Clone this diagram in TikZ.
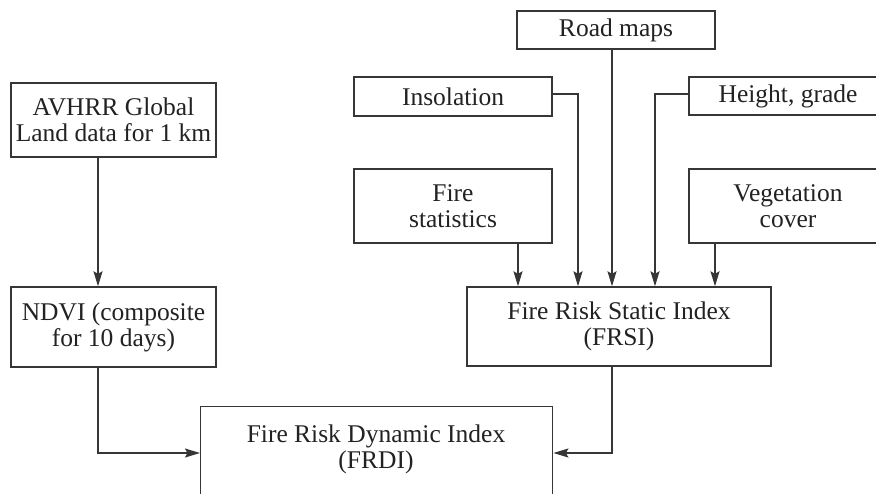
\documentclass[tikz,border=0pt]{standalone}
\usepackage{fontspec}
\setmainfont{Liberation Serif}
\usetikzlibrary{arrows.meta}
\definecolor{linec}{HTML}{363636}
\definecolor{textc}{HTML}{222222}
\begin{document}
\begin{tikzpicture}[x=1pt,y=-1pt,
  box/.style={draw=linec, line width=1.4pt, align=center, inner sep=0pt,
    font=\fontsize{25.5}{26}\selectfont, text=textc},
  lbl/.style={align=center, inner sep=0pt, font=\fontsize{25.5}{26}\selectfont, text=textc},
  arr/.style={draw=linec, line width=1.4pt, -{Stealth[length=15pt,width=9pt,inset=2.5pt]}}]
\useasboundingbox (0,0) rectangle (876,493);
\fill[white] (0,0) rectangle (876,493);
% boxes
\node[box, minimum width=205pt, minimum height=74pt] (avhrr) at (113.5,120) {AVHRR Global\\Land data for 1 km};
\node[box, minimum width=205pt, minimum height=80pt] (ndvi) at (113.5,327) {NDVI (composite\\for 10 days)};
\node[box, minimum width=198pt, minimum height=38pt] (road) at (616,30) {Road maps};
\node[box, minimum width=198pt, minimum height=39pt] (insol) at (453,96.5) {Insolation};
\node[box, minimum width=198pt, minimum height=38pt] (height) at (788,96) {Height, grade};
\node[box, minimum width=198pt, minimum height=74pt] (firestat) at (453,206) {Fire\\statistics};
\node[box, minimum width=198pt, minimum height=74pt] (veg) at (788,206) {Vegetation\\cover};
\node[box, minimum width=304pt, minimum height=79pt] (frsi) at (619,326.5) {Fire Risk Static Index\\(FRSI)};
\node[box, minimum width=352pt, minimum height=130pt, anchor=north west] (frdi) at (200,406) {};
\node[lbl] (frditext) at (376,449) {Fire Risk Dynamic Index\\(FRDI)};
% helper coordinates
\coordinate (xl) at (98,0);
\coordinate (xfs) at (518,0);
\coordinate (xins) at (578,0);
\coordinate (xroad) at (612,0);
\coordinate (xh) at (655,0);
\coordinate (xv) at (715,0);
\coordinate (ylink) at (0,94);
\coordinate (yarr) at (0,453);
% connectors
\draw[arr] (avhrr.south -| xl) -- (ndvi.north -| xl);
\draw[arr] (ndvi.south -| xl) |- (frdi.west |- yarr);
\draw[arr] (road.south -| xroad) -- (frsi.north -| xroad);
\draw[arr] (firestat.south -| xfs) -- (frsi.north -| xfs);
\draw[arr] (veg.south -| xv) -- (frsi.north -| xv);
\draw[arr] (insol.east |- ylink) -| (frsi.north -| xins);
\draw[arr] (height.west |- ylink) -| (frsi.north -| xh);
\draw[arr] (frsi.south -| xroad) |- (frdi.east |- yarr);
\end{tikzpicture}
\end{document}
